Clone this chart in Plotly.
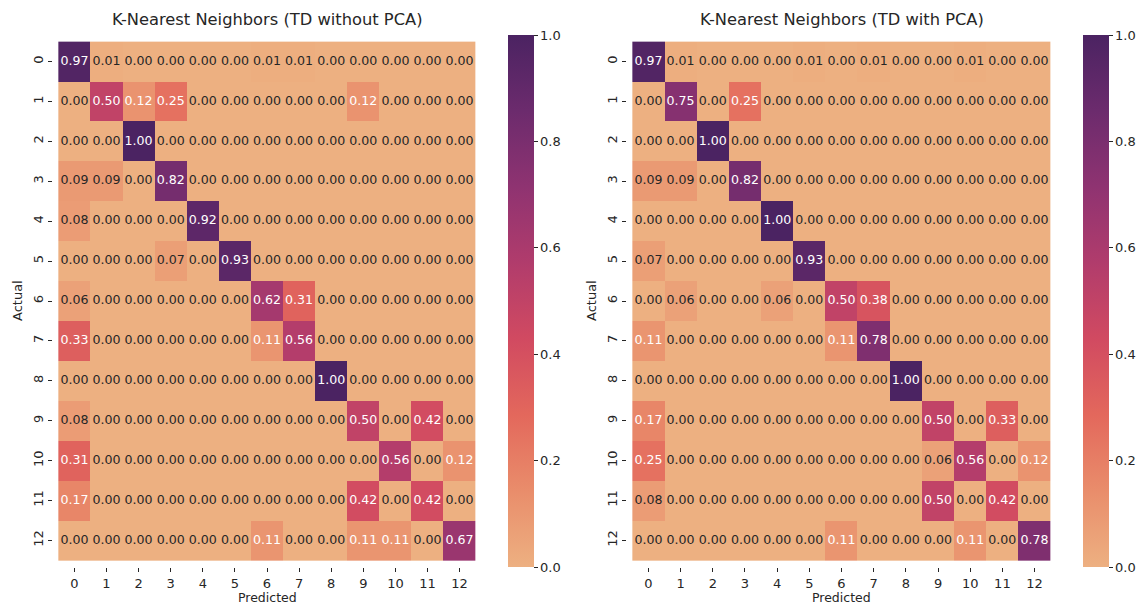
import plotly.graph_objects as go

# Class labels shared by both confusion matrices
classes = [str(i) for i in range(13)]

# Normalised confusion matrix, TD features without PCA (rows = actual, cols = predicted)
cm_no_pca = [
    [0.97, 0.01, 0.00, 0.00, 0.00, 0.00, 0.01, 0.01, 0.00, 0.00, 0.00, 0.00, 0.00],
    [0.00, 0.50, 0.12, 0.25, 0.00, 0.00, 0.00, 0.00, 0.00, 0.12, 0.00, 0.00, 0.00],
    [0.00, 0.00, 1.00, 0.00, 0.00, 0.00, 0.00, 0.00, 0.00, 0.00, 0.00, 0.00, 0.00],
    [0.09, 0.09, 0.00, 0.82, 0.00, 0.00, 0.00, 0.00, 0.00, 0.00, 0.00, 0.00, 0.00],
    [0.08, 0.00, 0.00, 0.00, 0.92, 0.00, 0.00, 0.00, 0.00, 0.00, 0.00, 0.00, 0.00],
    [0.00, 0.00, 0.00, 0.07, 0.00, 0.93, 0.00, 0.00, 0.00, 0.00, 0.00, 0.00, 0.00],
    [0.06, 0.00, 0.00, 0.00, 0.00, 0.00, 0.62, 0.31, 0.00, 0.00, 0.00, 0.00, 0.00],
    [0.33, 0.00, 0.00, 0.00, 0.00, 0.00, 0.11, 0.56, 0.00, 0.00, 0.00, 0.00, 0.00],
    [0.00, 0.00, 0.00, 0.00, 0.00, 0.00, 0.00, 0.00, 1.00, 0.00, 0.00, 0.00, 0.00],
    [0.08, 0.00, 0.00, 0.00, 0.00, 0.00, 0.00, 0.00, 0.00, 0.50, 0.00, 0.42, 0.00],
    [0.31, 0.00, 0.00, 0.00, 0.00, 0.00, 0.00, 0.00, 0.00, 0.00, 0.56, 0.00, 0.12],
    [0.17, 0.00, 0.00, 0.00, 0.00, 0.00, 0.00, 0.00, 0.00, 0.42, 0.00, 0.42, 0.00],
    [0.00, 0.00, 0.00, 0.00, 0.00, 0.00, 0.11, 0.00, 0.00, 0.11, 0.11, 0.00, 0.67],
]

# Normalised confusion matrix, TD features with PCA
cm_pca = [
    [0.97, 0.01, 0.00, 0.00, 0.00, 0.01, 0.00, 0.01, 0.00, 0.00, 0.01, 0.00, 0.00],
    [0.00, 0.75, 0.00, 0.25, 0.00, 0.00, 0.00, 0.00, 0.00, 0.00, 0.00, 0.00, 0.00],
    [0.00, 0.00, 1.00, 0.00, 0.00, 0.00, 0.00, 0.00, 0.00, 0.00, 0.00, 0.00, 0.00],
    [0.09, 0.09, 0.00, 0.82, 0.00, 0.00, 0.00, 0.00, 0.00, 0.00, 0.00, 0.00, 0.00],
    [0.00, 0.00, 0.00, 0.00, 1.00, 0.00, 0.00, 0.00, 0.00, 0.00, 0.00, 0.00, 0.00],
    [0.07, 0.00, 0.00, 0.00, 0.00, 0.93, 0.00, 0.00, 0.00, 0.00, 0.00, 0.00, 0.00],
    [0.00, 0.06, 0.00, 0.00, 0.06, 0.00, 0.50, 0.38, 0.00, 0.00, 0.00, 0.00, 0.00],
    [0.11, 0.00, 0.00, 0.00, 0.00, 0.00, 0.11, 0.78, 0.00, 0.00, 0.00, 0.00, 0.00],
    [0.00, 0.00, 0.00, 0.00, 0.00, 0.00, 0.00, 0.00, 1.00, 0.00, 0.00, 0.00, 0.00],
    [0.17, 0.00, 0.00, 0.00, 0.00, 0.00, 0.00, 0.00, 0.00, 0.50, 0.00, 0.33, 0.00],
    [0.25, 0.00, 0.00, 0.00, 0.00, 0.00, 0.00, 0.00, 0.00, 0.06, 0.56, 0.00, 0.12],
    [0.08, 0.00, 0.00, 0.00, 0.00, 0.00, 0.00, 0.00, 0.00, 0.50, 0.00, 0.42, 0.00],
    [0.00, 0.00, 0.00, 0.00, 0.00, 0.00, 0.11, 0.00, 0.00, 0.00, 0.11, 0.00, 0.78],
]

titles = ["K-Nearest Neighbors (TD without PCA)", "K-Nearest Neighbors (TD with PCA)"]
colorbar_ticks = [0.0, 0.2, 0.4, 0.6, 0.8, 1.0]

# "flare"-style sequential palette (light orange -> dark purple)
flare = [
    [0.0, "#edb081"],
    [1 / 7, "#e98d6b"],
    [2 / 7, "#e3685c"],
    [3 / 7, "#d14a61"],
    [4 / 7, "#b13c6c"],
    [5 / 7, "#8f3371"],
    [6 / 7, "#6c2b6d"],
    [1.0, "#4b2362"],
]

W, H = 1142, 607
FONT = "DejaVu Sans"
INK = "#262626"


def px_x(p):
    return p / W


def px_y(p):
    return 1 - p / H


# pixel extents of the two heatmaps and their colorbars
panels = [
    dict(x0=53, x1=481, cb=508),
    dict(x0=627, x1=1056, cb=1083),
]
top, bottom = 35, 567

fig = go.Figure()
annotations = []

for i, (cm, title, pnl) in enumerate(zip([cm_no_pca, cm_pca], titles, panels)):
    xa = "x" if i == 0 else "x2"
    ya = "y" if i == 0 else "y2"
    fig.add_trace(go.Heatmap(
        z=cm, x=classes, y=classes, xaxis=xa, yaxis=ya,
        colorscale=flare, zmin=0, zmax=1, xgap=0, ygap=0,
        hoverinfo="skip",
        colorbar=dict(
            x=px_x(pnl["cb"]), xanchor="left", xpad=0,
            y=px_y(bottom), yanchor="bottom", ypad=0,
            len=(bottom - top) / H, lenmode="fraction",
            thickness=26, thicknessmode="pixels",
            outlinewidth=0,
            tickvals=colorbar_ticks, ticktext=[f"{v:.1f}" for v in colorbar_ticks],
            ticks="outside", ticklen=4, tickwidth=1, tickcolor=INK,
            tickfont=dict(family=FONT, size=13, color=INK),
        ),
    ))
    # cell annotations: light text on saturated cells, dark on pale cells
    xs, ys, txt, cols = [], [], [], []
    for r, row in enumerate(cm):
        for c, v in enumerate(row):
            xs.append(classes[c])
            ys.append(classes[r])
            txt.append(f"{v:.2f}")
            cols.append("#ffffff" if v >= 0.10 else INK)
    fig.add_trace(go.Scatter(
        x=xs, y=ys, text=txt, mode="text", xaxis=xa, yaxis=ya,
        textfont=dict(family=FONT, size=12.6, color=cols),
        hoverinfo="skip", showlegend=False,
    ))

    cx = (pnl["x0"] + pnl["x1"]) / 2
    annotations.append(dict(
        text=title, x=px_x(cx), y=px_y(20), xref="paper", yref="paper",
        xanchor="center", yanchor="middle", showarrow=False,
        font=dict(family=FONT, size=16.3, color=INK),
    ))
    annotations.append(dict(
        text="Predicted", x=px_x(cx), y=px_y(606), xref="paper", yref="paper",
        xanchor="center", yanchor="bottom", showarrow=False,
        borderpad=0,
        font=dict(family=FONT, size=12.5, color=INK),
    ))
    annotations.append(dict(
        text="Actual", x=px_x(pnl["x0"] - 36), y=px_y((top + bottom) / 2),
        xref="paper", yref="paper", textangle=-90,
        xanchor="center", yanchor="middle", showarrow=False,
        font=dict(family=FONT, size=13, color=INK),
    ))

axis_common = dict(
    showgrid=False, zeroline=False, showline=False,
    ticks="outside", ticklen=4, tickwidth=1, tickcolor=INK,
    tickfont=dict(family=FONT, size=13, color=INK),
    type="category",
)

fig.update_layout(
    width=W, height=H,
    margin=dict(l=0, r=0, t=0, b=0),
    paper_bgcolor="white", plot_bgcolor="white",
    showlegend=False,
    annotations=annotations,
    xaxis=dict(domain=[px_x(53), px_x(481)], anchor="y", **axis_common),
    yaxis=dict(domain=[px_y(bottom), px_y(top)], anchor="x", autorange="reversed",
               tickangle=-90, **axis_common),
    xaxis2=dict(domain=[px_x(627), px_x(1056)], anchor="y2", **axis_common),
    yaxis2=dict(domain=[px_y(bottom), px_y(top)], anchor="x2", autorange="reversed",
                tickangle=-90, **axis_common),
)

fig.write_html("out.html")
